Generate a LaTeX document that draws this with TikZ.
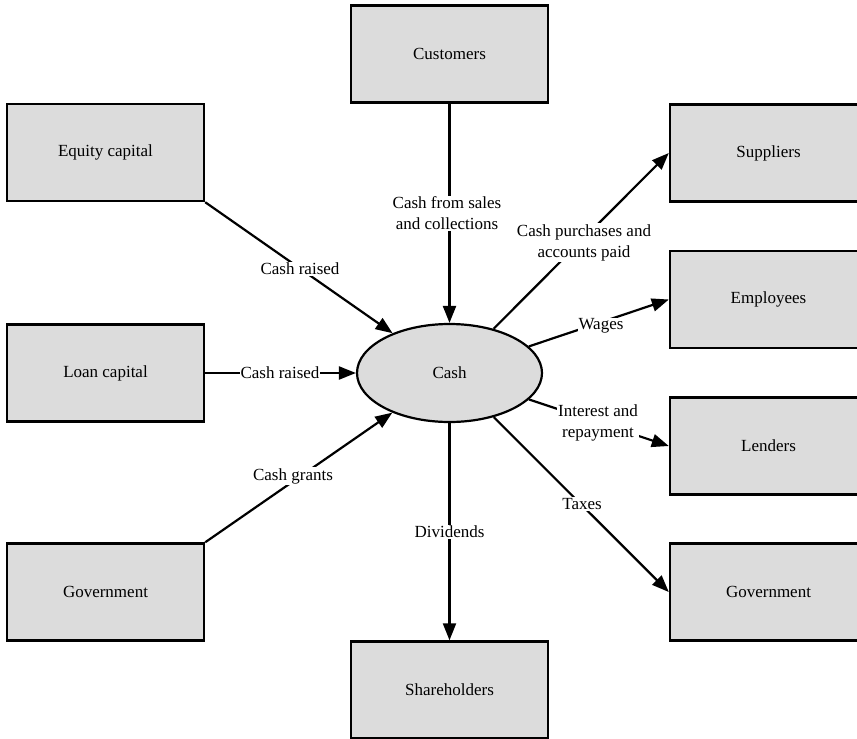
\documentclass[tikz,border=0pt]{standalone}
\usepackage{fontspec}
\setmainfont{Liberation Serif}
\usetikzlibrary{shapes.geometric,arrows.meta}
\definecolor{boxgray}{RGB}{220,220,220}
\begin{document}
\begin{tikzpicture}[x=1pt,y=-1pt,
  every node/.style={font=\fontsize{17}{21}\selectfont},
  party/.style={draw=black,line width=2.4pt,fill=boxgray,rectangle,
    minimum width=197pt,minimum height=97pt,inner sep=0pt},
  pool/.style={draw=black,line width=2.2pt,fill=boxgray,ellipse,
    minimum width=185pt,minimum height=98pt,inner sep=0pt},
  flow/.style={line width=2.2pt,-{Triangle[length=17pt,width=13pt]}},
  flowlabel/.style={fill=white,inner sep=1pt,align=center}]
\useasboundingbox (0,0) rectangle (857,739);
\clip (0,0) rectangle (857,739);

% sources and destinations of cash
\node[party] (customers)    at (449.5,54)  {Customers};
\node[party] (equity)       at (105.5,152.5) {Equity capital};
\node[party] (loan)         at (105.5,373) {Loan capital};
\node[party] (govin)        at (105.5,592) {Government};
\node[party] (suppliers)    at (768.5,153) {Suppliers};
\node[party] (employees)    at (768.5,299.5) {Employees};
\node[party] (lenders)      at (768.5,446) {Lenders};
\node[party] (govout)       at (768.5,592) {Government};
\node[party] (shareholders) at (449.5,690) {Shareholders};

% the cash pool
\node[pool] (cash) at (449.5,373) {Cash};

% inflows
\draw[flow] (customers.south) -- (cash);
\draw[flow] (equity.south east) -- (cash);
\draw[flow] (loan.east) -- (cash.west);
\draw[flow] (govin.north east) -- (cash);

% outflows
\draw[flow] (cash) -- (suppliers.west);
\draw[flow] (cash) -- (employees.west);
\draw[flow] (cash) -- (lenders.west);
\draw[flow] (cash) -- (govout.west);
\draw[flow] (cash.south) -- (shareholders.north);

% flow labels
\node[flowlabel] (lsales)   at (447,213.5) {Cash from sales\\and collections};
\node[flowlabel] (lequity)  at (300,269)   {Cash raised};
\node[flowlabel] (lloan)    at (280,373)   {Cash raised};
\node[flowlabel] (lgrants)  at (293,476)   {Cash grants};
\node[flowlabel] (lsupp)    at (584,242.5) {Cash purchases and\\accounts paid};
\node[flowlabel] (lwages)   at (601,326)   {Wages};
\node[flowlabel] (linter)   at (598,423)   {Interest and\\repayment};
\node[flowlabel] (ltaxes)   at (582,504)   {Taxes};
\node[flowlabel] (ldiv)     at (449.5,532) {Dividends};
\end{tikzpicture}
\end{document}
